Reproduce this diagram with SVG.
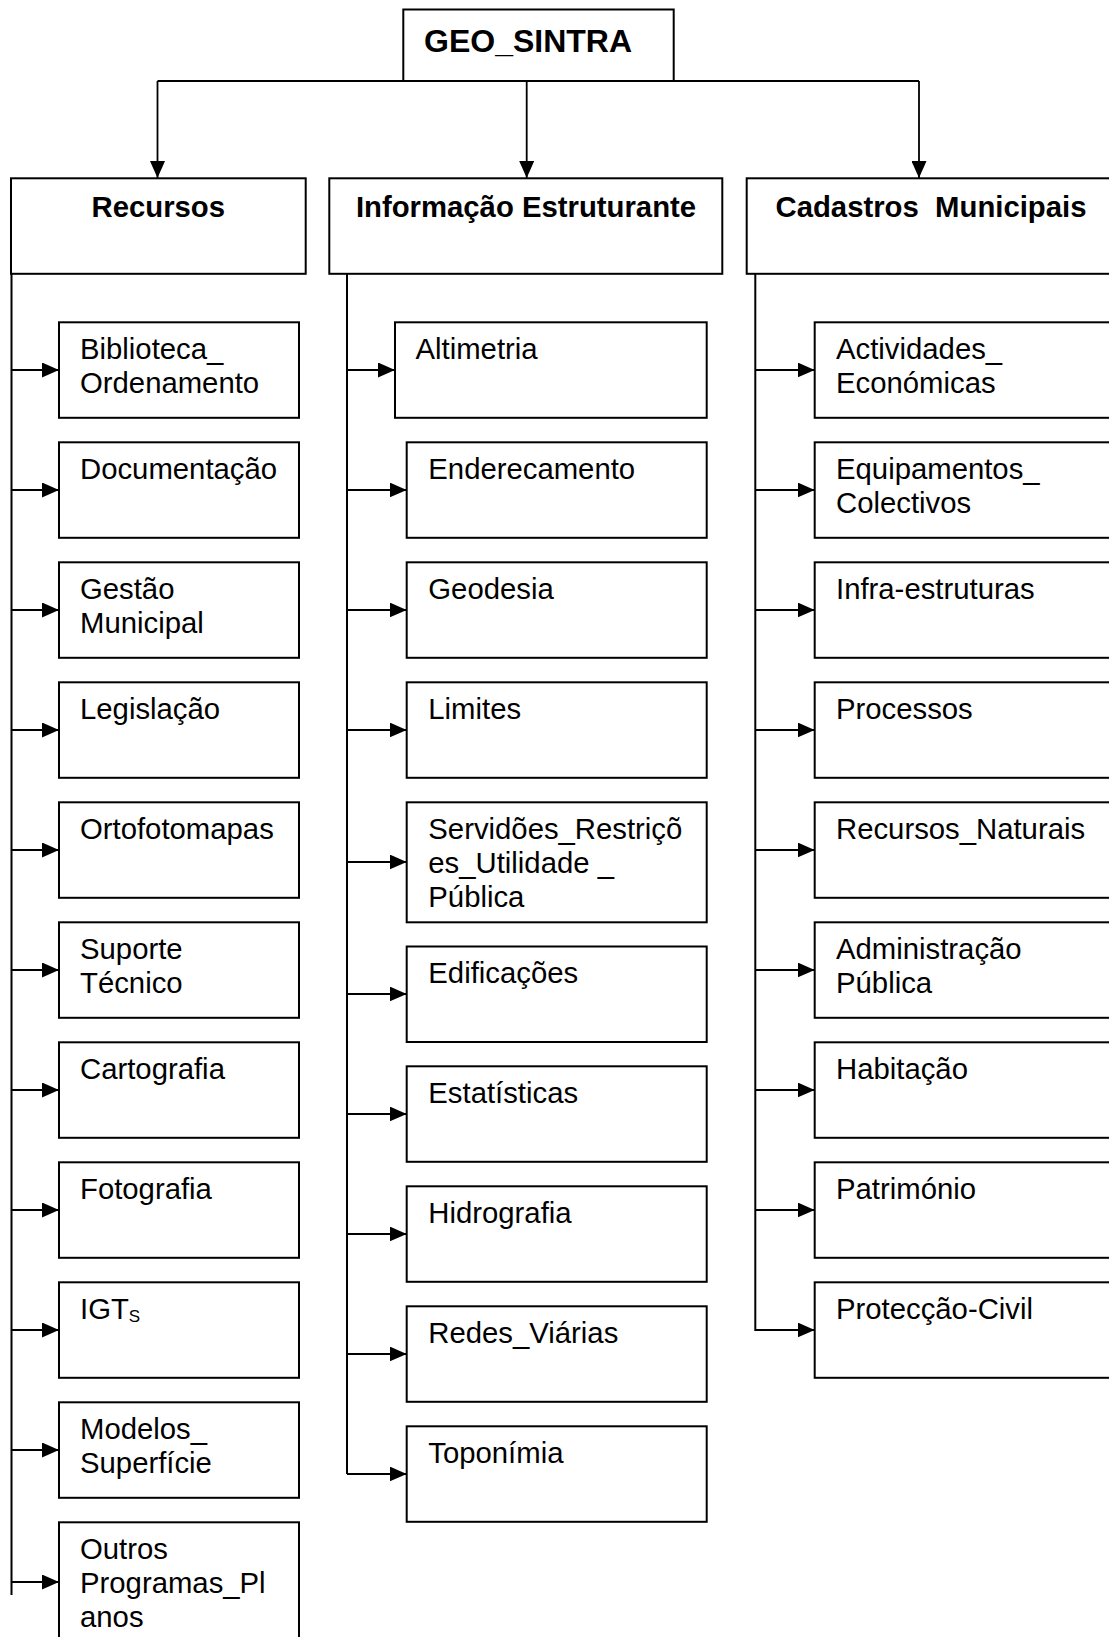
<svg xmlns="http://www.w3.org/2000/svg" width="1109" height="1637" viewBox="0 0 1109 1637">
<style>
.box{fill:#fff;stroke:#000;stroke-width:2}
.con{fill:none;stroke:#000;stroke-width:1.8}
.trunk{fill:none;stroke:#000;stroke-width:2}
.t{font-family:"Liberation Sans",Arial,sans-serif;font-size:29.3px;fill:#000}
.h{font-family:"Liberation Sans",Arial,sans-serif;font-size:29.3px;font-weight:bold;fill:#000;text-anchor:middle;white-space:pre}
</style>
<defs>
<marker id="ah" markerUnits="userSpaceOnUse" markerWidth="17" markerHeight="15" refX="17" refY="7.5" orient="auto">
<path d="M0,0 L17,7.5 L0,15 z" fill="#000"/>
</marker>
</defs>
<rect width="1109" height="1637" fill="#fff"/>

<g id="connectors">
<path class="con" d="M157.5,81 H919"/>
<path class="con" d="M157.5,81 V178" marker-end="url(#ah)"/>
<path class="con" d="M526.7,81 V178" marker-end="url(#ah)"/>
<path class="con" d="M919,81 V178" marker-end="url(#ah)"/>
<path class="trunk" d="M11.5,274 V1595"/>
<path class="trunk" d="M347,274 V1474"/>
<path class="trunk" d="M755.3,274 V1331"/>
<g marker-end="url(#ah)">
<path class="con" d="M11.5,370 H59"/>
<path class="con" d="M11.5,490 H59"/>
<path class="con" d="M11.5,610 H59"/>
<path class="con" d="M11.5,730 H59"/>
<path class="con" d="M11.5,850 H59"/>
<path class="con" d="M11.5,970 H59"/>
<path class="con" d="M11.5,1090 H59"/>
<path class="con" d="M11.5,1210 H59"/>
<path class="con" d="M11.5,1330 H59"/>
<path class="con" d="M11.5,1450 H59"/>
<path class="con" d="M11.5,1582 H59"/>
<path class="con" d="M347,370 H395"/>
<path class="con" d="M347,490 H406.7"/>
<path class="con" d="M347,610 H406.7"/>
<path class="con" d="M347,730 H406.7"/>
<path class="con" d="M347,862 H406.7"/>
<path class="con" d="M347,994 H406.7"/>
<path class="con" d="M347,1114 H406.7"/>
<path class="con" d="M347,1234 H406.7"/>
<path class="con" d="M347,1354 H406.7"/>
<path class="con" d="M347,1474 H406.7"/>
<path class="con" d="M755.3,370 H814.7"/>
<path class="con" d="M755.3,490 H814.7"/>
<path class="con" d="M755.3,610 H814.7"/>
<path class="con" d="M755.3,730 H814.7"/>
<path class="con" d="M755.3,850 H814.7"/>
<path class="con" d="M755.3,970 H814.7"/>
<path class="con" d="M755.3,1090 H814.7"/>
<path class="con" d="M755.3,1210 H814.7"/>
<path class="con" d="M755.3,1330 H814.7"/>
</g>
</g>

<g id="geo_sintra">
<rect class="box" x="403.3" y="9.5" width="270.4" height="71.5"/>
<text x="424" y="51.7" font-family="Liberation Sans, Arial, sans-serif" font-size="32" font-weight="bold">GEO_SINTRA</text>
</g>

<g id="recursos">
<rect class="box" x="11" y="178.3" width="294.7" height="95.5"/>
<text class="h" x="158.3" y="216.7">Recursos</text>
</g>
<g id="informacao">
<rect class="box" x="329.3" y="178.3" width="393" height="95.5"/>
<text class="h" x="526" y="216.7">Informação Estruturante</text>
</g>
<g id="cadastros">
<rect class="box" x="746.7" y="178.3" width="380" height="95.5"/>
<text class="h" x="931" y="216.7">Cadastros  Municipais</text>
</g>

<!-- Recursos column -->
<g id="biblioteca"><rect class="box" x="59" y="322.3" width="240" height="95.5"/><text class="t" x="80" y="359.3">Biblioteca_</text><text class="t" x="80" y="393.3">Ordenamento</text></g>
<g id="documentacao"><rect class="box" x="59" y="442.3" width="240" height="95.5"/><text class="t" x="80" y="479.3">Documentação</text></g>
<g id="gestao"><rect class="box" x="59" y="562.3" width="240" height="95.5"/><text class="t" x="80" y="599.3">Gestão</text><text class="t" x="80" y="633.3">Municipal</text></g>
<g id="legislacao"><rect class="box" x="59" y="682.3" width="240" height="95.5"/><text class="t" x="80" y="719.3">Legislação</text></g>
<g id="ortofotomapas"><rect class="box" x="59" y="802.3" width="240" height="95.5"/><text class="t" x="80" y="839.3">Ortofotomapas</text></g>
<g id="suporte"><rect class="box" x="59" y="922.3" width="240" height="95.5"/><text class="t" x="80" y="959.3">Suporte</text><text class="t" x="80" y="993.3">Técnico</text></g>
<g id="cartografia"><rect class="box" x="59" y="1042.3" width="240" height="95.5"/><text class="t" x="80" y="1079.3">Cartografia</text></g>
<g id="fotografia"><rect class="box" x="59" y="1162.3" width="240" height="95.5"/><text class="t" x="80" y="1199.3">Fotografia</text></g>
<g id="igts"><rect class="box" x="59" y="1282.3" width="240" height="95.5"/><text class="t" x="80" y="1319.3">IGT<tspan font-size="17" dy="3">S</tspan></text></g>
<g id="modelos"><rect class="box" x="59" y="1402.3" width="240" height="95.5"/><text class="t" x="80" y="1439.3">Modelos_</text><text class="t" x="80" y="1473.3">Superfície</text></g>
<g id="outros"><rect class="box" x="59" y="1522.3" width="240" height="130"/><text class="t" x="80" y="1559.3">Outros</text><text class="t" x="80" y="1593.3">Programas_Pl</text><text class="t" x="80" y="1627.3">anos</text></g>

<!-- Informação column -->
<g id="altimetria"><rect class="box" x="395" y="322.3" width="311.7" height="95.5"/><text class="t" x="415.5" y="359.3">Altimetria</text></g>
<g id="enderecamento"><rect class="box" x="406.7" y="442.3" width="300" height="95.5"/><text class="t" x="428.3" y="479.3">Enderecamento</text></g>
<g id="geodesia"><rect class="box" x="406.7" y="562.3" width="300" height="95.5"/><text class="t" x="428.3" y="599.3">Geodesia</text></g>
<g id="limites"><rect class="box" x="406.7" y="682.3" width="300" height="95.5"/><text class="t" x="428.3" y="719.3">Limites</text></g>
<g id="servidoes"><rect class="box" x="406.7" y="802.3" width="300" height="120"/><text class="t" x="428.3" y="839.3">Servidões_Restriçõ</text><text class="t" x="428.3" y="873.3">es_Utilidade _</text><text class="t" x="428.3" y="907.3">Pública</text></g>
<g id="edificacoes"><rect class="box" x="406.7" y="946.5" width="300" height="95.5"/><text class="t" x="428.3" y="983.3">Edificações</text></g>
<g id="estatisticas"><rect class="box" x="406.7" y="1066.3" width="300" height="95.5"/><text class="t" x="428.3" y="1103.3">Estatísticas</text></g>
<g id="hidrografia"><rect class="box" x="406.7" y="1186.3" width="300" height="95.5"/><text class="t" x="428.3" y="1223.3">Hidrografia</text></g>
<g id="redes_viarias"><rect class="box" x="406.7" y="1306.3" width="300" height="95.5"/><text class="t" x="428.3" y="1343.3">Redes_Viárias</text></g>
<g id="toponimia"><rect class="box" x="406.7" y="1426.3" width="300" height="95.5"/><text class="t" x="428.3" y="1463.3">Toponímia</text></g>

<!-- Cadastros column -->
<g id="actividades"><rect class="box" x="814.7" y="322.3" width="310" height="95.5"/><text class="t" x="836" y="359.3">Actividades_</text><text class="t" x="836" y="393.3">Económicas</text></g>
<g id="equipamentos"><rect class="box" x="814.7" y="442.3" width="310" height="95.5"/><text class="t" x="836" y="479.3">Equipamentos_</text><text class="t" x="836" y="513.3">Colectivos</text></g>
<g id="infra"><rect class="box" x="814.7" y="562.3" width="310" height="95.5"/><text class="t" x="836" y="599.3">Infra-estruturas</text></g>
<g id="processos"><rect class="box" x="814.7" y="682.3" width="310" height="95.5"/><text class="t" x="836" y="719.3">Processos</text></g>
<g id="recursos_naturais"><rect class="box" x="814.7" y="802.3" width="310" height="95.5"/><text class="t" x="836" y="839.3">Recursos_Naturais</text></g>
<g id="administracao"><rect class="box" x="814.7" y="922.3" width="310" height="95.5"/><text class="t" x="836" y="959.3">Administração</text><text class="t" x="836" y="993.3">Pública</text></g>
<g id="habitacao"><rect class="box" x="814.7" y="1042.3" width="310" height="95.5"/><text class="t" x="836" y="1079.3">Habitação</text></g>
<g id="patrimonio"><rect class="box" x="814.7" y="1162.3" width="310" height="95.5"/><text class="t" x="836" y="1199.3">Património</text></g>
<g id="proteccao"><rect class="box" x="814.7" y="1282.3" width="310" height="95.5"/><text class="t" x="836" y="1319.3">Protecção-Civil</text></g>
</svg>
